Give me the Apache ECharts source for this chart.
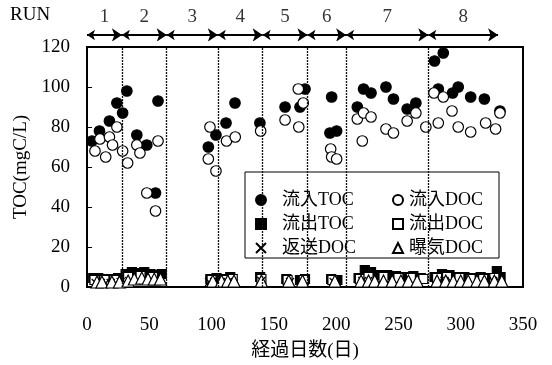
<!DOCTYPE html>
<html>
<head>
<meta charset="utf-8">
<script src="https://cdn.jsdelivr.net/npm/echarts@6/dist/echarts.min.js"></script>
<style>
  html, body { margin: 0; padding: 0; background: #fff; }
  #chart { width: 552px; height: 365px; }
</style>
</head>
<body>
<div id="chart"></div>
<script>
const FONT = "'Liberation Serif', 'Noto Sans CJK JP', serif";

// RUN periods (days)
const runBounds = [0, 28, 64, 105, 141, 177, 208, 274, 330];
const runNames = ['1', '2', '3', '4', '5', '6', '7', '8'];
const dividerDays = [28, 64, 105, 141, 177, 208, 274];

// [day, mgC/L]
const inToc = [[4,73],[10,78],[18,83],[24,92],[28.6,87],[32,98],[40,76],[48,71],[55,47],[57,93],
  [97.4,70],[103.5,76],[111.6,82],[118.8,92],[138.8,82],[159,90],[171,90],[175,99],
  [195,77],[196.4,95],[200.4,78],[217,90],[222,99],[228,97],[240,100],[246,94],[257,89],[264,92],
  [279,113],[282,99],[286,117],[293.5,97],[298,100],[308,95],[319,94],[331.5,88]];
const inDoc = [[6.4,68],[10.4,74],[15,65],[18,75],[20.5,71],[24,80],[28.6,68],[32.6,62],[40,71],[42.5,67],
  [48,47],[55,38],[57,73],[97.4,64],[98.7,80],[103.5,58],[112,73],[119,75],[139.4,78],
  [159,83.5],[170,80],[169.6,99],[173.6,92],[195.6,69],[196.4,65],[200.4,64],
  [217,84],[221,73],[222,87],[228,85],[240,79],[246,77],[257,83],[264,87],[272,80],
  [278.5,97],[282,82],[286,95],[293,88],[298,80],[308,77.5],[320,82],[328,79],[331.5,87]];
const outToc = [[5,4.5],[9,4.5],[13,4],[17,4],[21,4],[25,4.5],[31,6.5],[36,7.5],[41,7],[46,7.5],[51,6.5],[56,6],[60,6.5],
  [99,4],[104,4.5],[109,4],[115,5],[139,5],[160,4],[171,3.5],[175,4],[196,4],[201,3.5],
  [218,4.5],[223,8.5],[228,7.5],[236,6],[241,6],[248,5.5],[256,5],[262,5.5],[268,4.5],
  [279,5],[285,6.5],[291,6],[297,5],[303,5],[310,4.5],[316,5],[323,4.5],[329,8],[332,5]];
const outDoc = [[6,3.5],[14,3.5],[22,3.5],[33,5],[43,5.5],[53,5],[100,3.5],[110,3.5],[117,4],[140,4],
  [161,3.5],[174,3.5],[197,3.5],[219,4],[226,5],[238,5],[250,4.5],[260,4.5],[270,4],
  [281,4.5],[289,5],[299,4.5],[308,4],[318,4],[327,4.5]];
const retDoc = [[7,2],[11,2],[15,2],[19,2],[23,2],[27,2.5],[34,3],[98,2.5],[102,2.5],[106,2.5],[113,2.5],
  [140,3],[163,2.5],[198,2.5],[221,3],[231,3],[283,3],[287,3],[292,3],[302,2.5],[321,3],[326,3],[331,3]];
const aerDoc = [[8,2.5],[12,2.5],[20,2.5],[26,2.5],[33,3],[38,4],[44,4.5],[49,4],[54,4],[59,4],
  [101,3],[108,3],[113,3],[118,3],[140,3],[162,3],[173,3],[199,3],[220,3],[226,3],[231,3],
  [238,3],[245,3],[252,3],[258,3],[265,3],[281,3],[288,3],[294,3],[300,3],[306,3],[313,3],[319,3],[327,3],[333,3]];

const runArrows = runNames.map((n, i) => ({coords: [[runBounds[i], 0.5], [runBounds[i + 1], 0.5]]}));
const runLabels = runNames.map((n, i) => [(runBounds[i] + runBounds[i + 1]) / 2, 2.3]);

const chart = echarts.init(document.getElementById('chart'), null, {renderer: 'canvas'});

const marker = (name, data, symbol, size, fill) => ({
  name: name,
  type: 'scatter',
  data: data,
  symbol: symbol,
  symbolSize: size,
  itemStyle: {color: fill, borderColor: '#000', borderWidth: 1.2, opacity: 1},
  xAxisIndex: 0,
  yAxisIndex: 0,
});

const series = [
  marker('流入TOC', inToc, 'circle', 10.5, '#000'),
  marker('流入DOC', inDoc, 'circle', 10.5, '#fff'),
  marker('流出TOC', outToc, 'rect', 9, '#000'),
  marker('流出DOC', outDoc, 'rect', 9, '#fff'),
  marker('返送DOC', retDoc, 'path://M0,0L10,10M10,0L0,10', 8, '#000'),
  marker('曝気DOC', aerDoc, 'triangle', 12, '#fff'),
];
series[0].markLine = {
  silent: true,
  symbol: ['none', 'none'],
  label: {show: false},
  animation: false,
  lineStyle: {color: '#111', width: 1.3, type: [2, 1]},
  data: dividerDays.map(d => ({xAxis: d})),
};
series.push({
  type: 'lines',
  coordinateSystem: 'cartesian2d',
  xAxisIndex: 1,
  yAxisIndex: 1,
  symbol: ['arrow', 'arrow'],
  symbolSize: [8, 10],
  lineStyle: {color: '#000', width: 2, opacity: 1},
  data: runArrows,
});
series.push({
  type: 'scatter',
  xAxisIndex: 1,
  yAxisIndex: 1,
  symbolSize: 0,
  data: runLabels,
  label: {
    show: true,
    position: 'inside',
    formatter: p => runNames[p.dataIndex],
    color: '#000',
    fontSize: 19,
    fontFamily: FONT,
  },
});

const legendBase = {
  orient: 'vertical',
  top: 186,
  itemWidth: 10,
  itemHeight: 10,
  itemGap: 6,
  selectedMode: false,
};

chart.setOption({
  animation: false,
  backgroundColor: '#fff',
  textStyle: {fontFamily: FONT, color: '#000'},
  grid: [
    {left: 87, right: 29, top: 47, bottom: 78, show: true, borderColor: '#000', borderWidth: 2, outerBoundsMode: 'none'},
    {left: 87, right: 29, top: 10, height: 30, outerBoundsMode: 'none'},
  ],
  xAxis: [
    {
      gridIndex: 0,
      type: 'value',
      min: 0,
      max: 350,
      interval: 50,
      axisLine: {lineStyle: {color: '#000', width: 2}},
      axisTick: {show: false},
      splitLine: {show: false},
      axisLabel: {color: '#000', fontSize: 19, margin: 29, fontFamily: FONT},
      name: '経過日数(日)',
      nameLocation: 'middle',
      nameGap: 55,
      nameTextStyle: {color: '#000', fontSize: 19, fontFamily: FONT},
    },
    {gridIndex: 1, type: 'value', min: 0, max: 350, show: false},
  ],
  yAxis: [
    {
      gridIndex: 0,
      type: 'value',
      min: 0,
      max: 120,
      interval: 20,
      axisLine: {show: true, lineStyle: {color: '#000', width: 2}},
      axisTick: {show: true, inside: true, length: 5, lineStyle: {color: '#000'}},
      splitLine: {show: false},
      axisLabel: {color: '#000', fontSize: 19, margin: 17, fontFamily: FONT},
      name: 'TOC(mgC/L)',
      nameLocation: 'middle',
      nameGap: 46,
      nameTextStyle: {color: '#000', fontSize: 19, fontFamily: FONT},
    },
    {gridIndex: 1, type: 'value', min: 0, max: 3, show: false},
  ],
  legend: [
    Object.assign({}, legendBase, {
      left: 250,
      data: ['流入TOC', '流出TOC', '返送DOC'],
      textStyle: {fontSize: 18, fontFamily: FONT, color: '#000', padding: [0, 0, 0, 11]},
    }),
    Object.assign({}, legendBase, {
      left: 387,
      data: ['流入DOC', '流出DOC', '曝気DOC'],
      textStyle: {fontSize: 18, fontFamily: FONT, color: '#000', padding: [0, 0, 0, 1]},
    }),
  ],
  graphic: [
    {
      type: 'rect',
      z: 3,
      shape: {x: 245, y: 172, width: 254, height: 86},
      style: {fill: '#fff', stroke: '#000', lineWidth: 1},
    },
    {
      type: 'text',
      left: 10,
      top: 6,
      style: {text: 'RUN', font: "19px 'Liberation Serif', serif", fill: '#000'},
    },
  ],
  series: series,
});
</script>
</body>
</html>
